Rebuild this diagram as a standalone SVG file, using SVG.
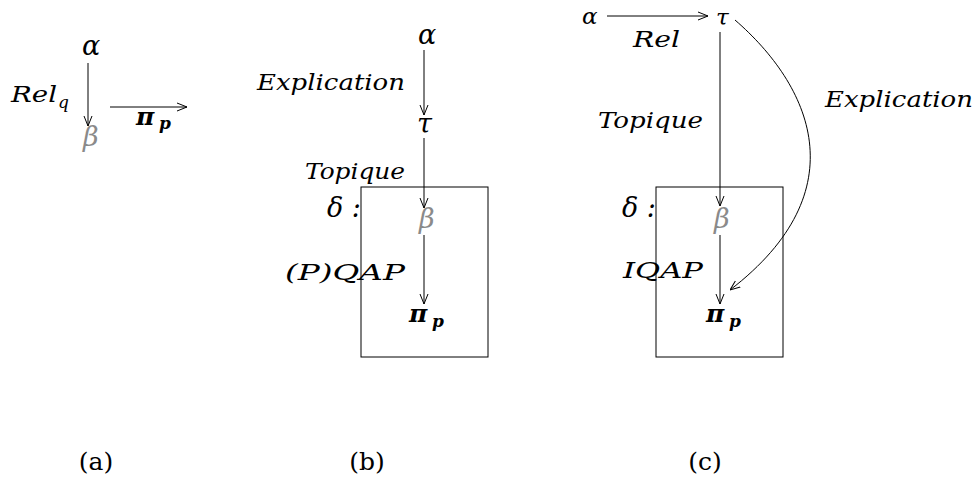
<svg xmlns="http://www.w3.org/2000/svg" width="976" height="483" viewBox="0 0 976 483">
<style>
text{font-family:"DejaVu Serif",serif}
.t{font-style:italic;font-size:23px;fill:#000}
.k{font-size:27px}
.g{fill:#8a8a8a}
.b{font-weight:bold;font-size:25px}
.s{font-size:17px}
.r{font-size:25px;fill:#000}
.e{stroke:#000;stroke-width:1;fill:none}
.box{stroke:#000;stroke-width:1;fill:none}
</style>
<defs>
<marker id="ah" viewBox="0 0 10 10" refX="10" refY="5" markerWidth="10" markerHeight="10" markerUnits="userSpaceOnUse" orient="auto">
<path d="M0,1 L10,5 L0,9" fill="none" stroke="#000" stroke-width="1"/>
</marker>
</defs>
<g id="connectors">
<line class="e" x1="88" y1="63" x2="88" y2="126" marker-end="url(#ah)"/>
<line class="e" x1="110" y1="107" x2="187" y2="107" marker-end="url(#ah)"/>
<line class="e" x1="424" y1="50" x2="424" y2="115" marker-end="url(#ah)"/>
<line class="e" x1="424" y1="138" x2="424" y2="208" marker-end="url(#ah)"/>
<line class="e" x1="424" y1="235" x2="424" y2="304" marker-end="url(#ah)"/>
<line class="e" x1="607" y1="16" x2="708" y2="16" marker-end="url(#ah)"/>
<line class="e" x1="720" y1="32" x2="720" y2="206" marker-end="url(#ah)"/>
<line class="e" x1="720" y1="235" x2="720" y2="304" marker-end="url(#ah)"/>
<path class="e" d="M735,20 C810,85 860,190 730,290" marker-end="url(#ah)"/>
</g>
<g id="a-alpha"><text class="t k" x="82" y="55">α</text></g>
<g id="a-beta"><text class="t k g" x="83" y="146">β</text></g>
<g id="a-relq"><text class="t" x="11" y="102" textLength="46" lengthAdjust="spacingAndGlyphs">Rel</text><text class="t s" x="58" y="108">q</text></g>
<g id="a-pi"><text class="t b" x="136" y="125">π</text><text class="t b s" x="159" y="129">p</text></g>

<g id="b-box"><rect class="box" x="361" y="187" width="127" height="170"/></g>
<g id="b-alpha"><text class="t k" x="418" y="44">α</text></g>
<g id="b-tau"><text class="t k" x="417" y="133">τ</text></g>
<g id="b-explication"><text class="t" x="257" y="90" textLength="148" lengthAdjust="spacingAndGlyphs">Explication</text></g>
<g id="b-topique"><text class="t" x="305" y="179" textLength="100" lengthAdjust="spacingAndGlyphs">Topique</text></g>
<g id="b-delta"><text class="t k" x="327" y="217">δ :</text></g>
<g id="b-beta"><text class="t k g" x="419" y="228">β</text></g>
<g id="b-pqap"><text class="t" x="285" y="280" textLength="120" lengthAdjust="spacingAndGlyphs">(P)QAP</text></g>
<g id="b-pi"><text class="t b" x="409" y="322">π</text><text class="t b s" x="432" y="327">p</text></g>

<g id="c-box"><rect class="box" x="656" y="187" width="127" height="170"/></g>
<g id="c-alpha"><text class="t" x="582" y="24" font-size="25">α</text></g>
<g id="c-tau"><text class="t" x="716" y="25" font-size="25">τ</text></g>
<g id="c-rel"><text class="t" x="633" y="47" textLength="47" lengthAdjust="spacingAndGlyphs">Rel</text></g>
<g id="c-topique"><text class="t" x="598" y="128" textLength="105" lengthAdjust="spacingAndGlyphs">Topique</text></g>
<g id="c-explication"><text class="t" x="825" y="107" textLength="148" lengthAdjust="spacingAndGlyphs">Explication</text></g>
<g id="c-delta"><text class="t k" x="622" y="217">δ :</text></g>
<g id="c-beta"><text class="t k g" x="714" y="228">β</text></g>
<g id="c-iqap"><text class="t" x="623" y="278" textLength="80" lengthAdjust="spacingAndGlyphs">IQAP</text></g>
<g id="c-pi"><text class="t b" x="706" y="322">π</text><text class="t b s" x="729" y="327">p</text></g>

<g id="labels">
<text class="r" x="96" y="470" text-anchor="middle">(a)</text>
<text class="r" x="367" y="470" text-anchor="middle">(b)</text>
<text class="r" x="705" y="470" text-anchor="middle">(c)</text>
</g>
</svg>
